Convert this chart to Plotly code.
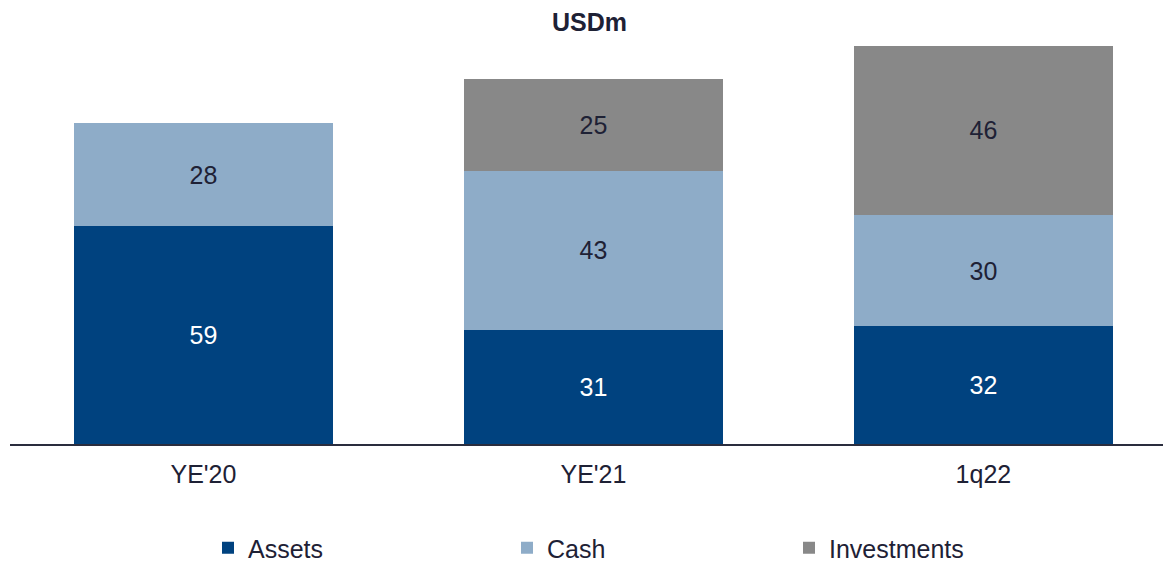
import plotly.graph_objects as go

categories = ["YE'20", "YE'21", "1q22"]
assets = [59, 31, 32]
cash = [28, 43, 30]
investments = [None, 25, 46]

series_names = ["Assets", "Cash", "Investments"]
colors = ["#00427F", "#8EACC8", "#888888"]
text_colors = ["#FFFFFF", "#1E2135", "#1E2135"]

FONT = "Liberation Sans, Arial, sans-serif"
DARK = "#1E2135"

# the page body has an 8px default margin; work in page pixels and convert
OFF = 8
W, H = 1171 - OFF, 571 - OFF

fig = go.Figure()
legend_ids = ["legend", "legend2", "legend3"]
for name, vals, col, tcol, lg in zip(series_names, [assets, cash, investments], colors, text_colors, legend_ids):
    fig.add_trace(go.Bar(
        name=name,
        x=categories,
        y=vals,
        marker=dict(color=col, line=dict(width=0)),
        text=[("" if v is None else str(v)) for v in vals],
        textposition="inside",
        insidetextanchor="middle",
        textangle=0,
        textfont=dict(family=FONT, size=25, color=tcol),
        width=0.665,
        legend=lg,
        showlegend=True,
        hoverinfo="skip",
    ))

# plot area in page pixels
plot_left, plot_right, plot_top, plot_bottom = 10, 1171, 40, 444
pw = plot_right - plot_left
ph = plot_bottom - plot_top
page_bottom = OFF + H

def lx(px):
    return (px - plot_left) / pw

leg_y = (plot_bottom - 548) / ph
legend_common = dict(orientation="h", yanchor="middle", xanchor="left",
                     font=dict(family=FONT, size=25, color=DARK),
                     bgcolor="rgba(0,0,0,0)", itemsizing="constant",
                     borderwidth=0)

fig.update_layout(
    width=W, height=H,
    barmode="stack",
    showlegend=True,
    paper_bgcolor="white", plot_bgcolor="white",
    margin=dict(l=plot_left - OFF, r=1171 - plot_right, t=plot_top - OFF, b=page_bottom - plot_bottom,
                autoexpand=False),
    title=dict(text="<b>USDm</b>", x=0.5, xanchor="center", y=1 - (22 - OFF) / H, yanchor="middle",
               font=dict(family=FONT, size=25, color=DARK)),
    legend=dict(x=lx(208), y=leg_y, **legend_common),
    legend2=dict(x=lx(507), y=leg_y, **legend_common),
    legend3=dict(x=lx(789), y=leg_y, **legend_common),
    xaxis=dict(
        range=[-0.496, 2.481],
        showline=True, linecolor="#2A2D3E", linewidth=2,
        ticks="", showgrid=False, zeroline=False,
        ticklabelstandoff=7,
        tickfont=dict(family=FONT, size=25, color=DARK),
    ),
    yaxis=dict(range=[0, 109.5], visible=False, showgrid=False, zeroline=False),
)

fig.write_html("out.html")
